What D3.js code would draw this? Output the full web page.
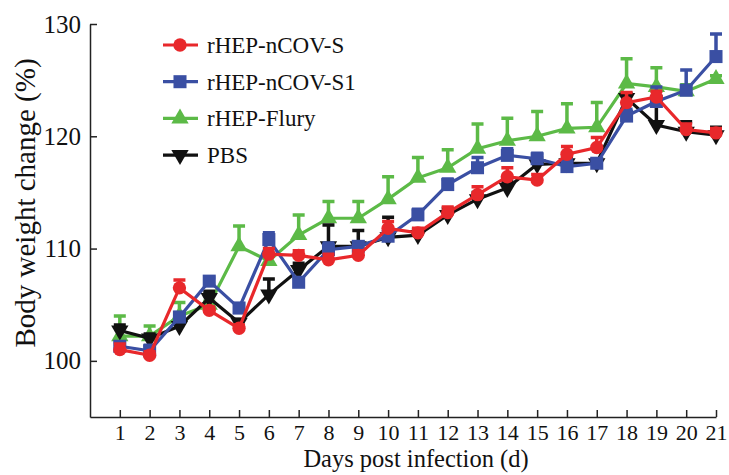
<!DOCTYPE html>
<html>
<head>
<meta charset="utf-8">
<script src="https://cdn.jsdelivr.net/npm/d3@7"></script>
<style>
    body { margin: 0; background: #fff; }
    text { font-family: "Liberation Serif", "Times New Roman", serif; fill: #111; }
</style>
</head>
<body>
<div id="chart"></div>
<script>

// Days post infection
var days = [1, 2, 3, 4, 5, 6, 7, 8, 9, 10, 11, 12, 13, 14, 15, 16, 17, 18, 19, 20, 21];
var yTicks = [100, 110, 120, 130];

// Mean body weight change (%) for each group
var rHepS = [101.0, 100.5, 106.5, 104.5, 102.9, 109.5, 109.4, 109.0, 109.4, 111.8, 111.4, 113.2, 114.8, 116.4, 116.1, 118.4, 119.0, 123.0, 123.5, 120.6, 120.3];
var rHepS1 = [101.3, 100.9, 103.9, 107.1, 104.7, 110.8, 107.0, 109.9, 110.2, 111.1, 113.0, 115.7, 117.2, 118.3, 118.0, 117.3, 117.6, 121.8, 123.1, 124.1, 127.1];
var rHepFlury = [102.2, 102.2, 104.0, 105.0, 110.2, 108.9, 111.2, 112.7, 112.7, 114.4, 116.3, 117.2, 118.9, 119.6, 120.0, 120.7, 120.8, 124.7, 124.4, 124.0, 125.1];
var pbs = [102.7, 102.0, 103.1, 105.6, 103.4, 105.9, 108.1, 110.2, 110.2, 111.0, 111.2, 113.0, 114.4, 115.4, 117.5, 117.6, 117.6, 123.4, 121.0, 120.4, 120.1];

// Error bars (SD, upper half only)
var rHepSErr = [0.5, 0.3, 0.7, 0.3, 0.3, 0.5, 0.4, 0.5, 0.4, 0.6, 0.4, 0.5, 0.7, 0.8, 0.5, 0.7, 0.9, 0.9, 0.5, 0.5, 0.4];
var rHepS1Err = [0.4, 0.5, 0.4, 0.3, 0.4, 0.6, 0.4, 0.6, 0.4, 0.3, 0.5, 0.5, 0.9, 0.6, 0.5, 0.6, 0.4, 0.6, 1.3, 1.8, 2.0];
var rHepFluryErr = [1.8, 0.9, 1.2, 0.3, 1.8, 0.6, 1.8, 1.5, 1.5, 2.0, 1.8, 1.6, 2.2, 2.0, 2.2, 2.2, 2.2, 2.2, 1.7, 0.6, 0.3];
var pbsErr = [0.5, 0.4, 0.3, 0.6, 0.3, 1.4, 0.6, 1.9, 1.4, 1.8, 0.5, 0.6, 0.6, 0.6, 0.6, 0.5, 0.3, 0.4, 2.0, 0.9, 0.7];

var series = [
    { name: "rHEP-nCOV-S", values: rHepS, err: rHepSErr, color: "#e8282b", symbol: d3.symbolCircle, size: 140 },
    { name: "rHEP-nCOV-S1", values: rHepS1, err: rHepS1Err, color: "#3a4fa3", symbol: d3.symbolSquare, size: 170 },
    { name: "rHEP-Flury", values: rHepFlury, err: rHepFluryErr, color: "#5cba47", symbol: d3.symbolTriangle, size: 130 },
    { name: "PBS", values: pbs, err: pbsErr, color: "#111111", symbol: d3.symbolTriangle, size: 130, flip: true }
];

var svg = d3.select("#chart").append("svg").attr("width", 729).attr("height", 475);

// Scales
var x = d3.scaleLinear().domain([0, 21]).range([90, 716]);
var y = d3.scaleLinear().domain([95, 130]).range([417, 24]);

// X axis (ticks point inward)
var xAxis = svg.append("g")
    .attr("transform", "translate(0," + y(95) + ")")
    .call(d3.axisBottom(x).tickValues(days).tickSize(-7).tickPadding(7).tickSizeOuter(0));
xAxis.selectAll("text").attr("font-size", 22).attr("dy", "0.71em");

// Y axis
var yAxis = svg.append("g")
    .attr("transform", "translate(" + x(0) + ",0)")
    .call(d3.axisLeft(y).tickValues(yTicks).tickSize(-7).tickPadding(9).tickSizeOuter(0));
yAxis.selectAll("text").attr("font-size", 25);

svg.selectAll(".domain, .tick line").attr("stroke", "#222").attr("stroke-width", 1.5);

// Axis titles
svg.append("text")
    .attr("x", 416).attr("y", 467)
    .attr("text-anchor", "middle").attr("font-size", 24.5)
    .text("Days post infection (d)");

svg.append("text")
    .attr("transform", "translate(35,203) rotate(-90)")
    .attr("text-anchor", "middle").attr("font-size", 29)
    .text("Body weight change (%)");

var line = d3.line().x((d, i) => x(days[i])).y(d => y(d));

// Draw series back to front
var drawOrder = [series[2], series[3], series[1], series[0]];

drawOrder.forEach(function (s) {
    var g = svg.append("g");

    // upper error bars
    g.selectAll(".err")
        .data(s.values)
        .enter().append("path")
        .attr("d", (d, i) => "M" + x(days[i]) + "," + y(d) + "V" + y(d + s.err[i]) +
            "M" + (x(days[i]) - 6) + "," + y(d + s.err[i]) + "H" + (x(days[i]) + 6))
        .attr("fill", "none")
        .attr("stroke", s.color)
        .attr("stroke-width", 3.5);

    g.append("path")
        .datum(s.values)
        .attr("d", line)
        .attr("fill", "none")
        .attr("stroke", s.color)
        .attr("stroke-width", 3.2);

    g.selectAll(".pt")
        .data(s.values)
        .enter().append("path")
        .attr("d", d3.symbol().type(s.symbol).size(s.size))
        .attr("transform", (d, i) => "translate(" + x(days[i]) + "," + y(d) + ")" + (s.flip ? " rotate(180)" : ""))
        .attr("fill", s.color);
});

// Legend
var legend = svg.append("g");
series.forEach(function (s, i) {
    var ly = 45 + i * 36.7;
    legend.append("line")
        .attr("x1", 163).attr("x2", 198).attr("y1", ly).attr("y2", ly)
        .attr("stroke", s.color).attr("stroke-width", 3.2);
    legend.append("path")
        .attr("d", d3.symbol().type(s.symbol).size(s.size))
        .attr("transform", "translate(180," + ly + ")" + (s.flip ? " rotate(180)" : ""))
        .attr("fill", s.color);
    legend.append("text")
        .attr("x", 207).attr("y", ly)
        .attr("dy", "0.35em")
        .attr("font-size", 23)
        .text(s.name);
});

</script>
</body>
</html>
